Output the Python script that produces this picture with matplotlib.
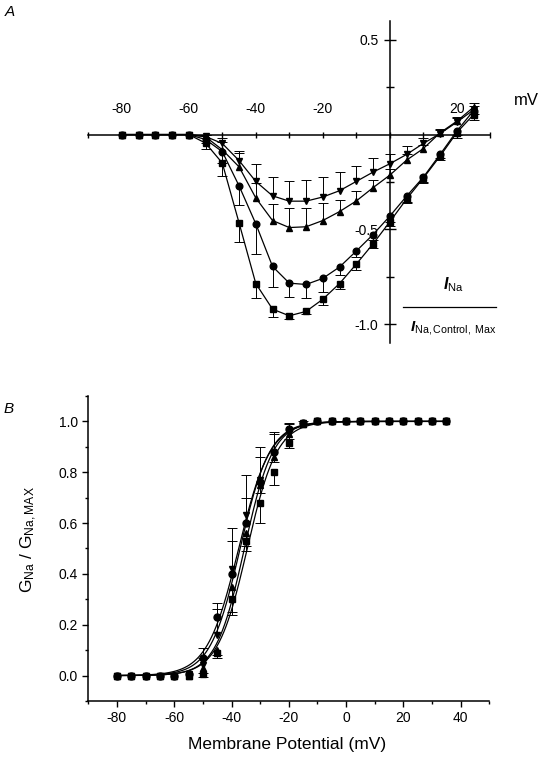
import numpy as np
import matplotlib
matplotlib.use('Agg')
from matplotlib import pyplot as plt
from matplotlib.lines import Line2D

plt.rcParams['font.family'] = ['Liberation Sans', 'DejaVu Sans']
plt.rcParams['axes.unicode_minus'] = False
plt.rcParams['mathtext.fontset'] = 'custom'
plt.rcParams['mathtext.rm'] = 'Liberation Sans'
plt.rcParams['mathtext.it'] = 'Liberation Sans:italic'
plt.rcParams['mathtext.bf'] = 'Liberation Sans:italic:bold'
plt.rcParams['mathtext.default'] = 'regular'

'''panel A : normalised I-V'''
volts_a = list(range(-80, 30, 5))
ina_square = [0, 0, 0, 0, 0, -0.045, -0.15, -0.465, -0.785, -0.92, -0.955, -0.932, -0.868,
              -0.785, -0.683, -0.576, -0.46, -0.34, -0.23, -0.114, 0.01, 0.105]
ina_circle = [0, 0, 0, 0, 0, -0.026, -0.09, -0.27, -0.47, -0.695, -0.783, -0.79, -0.758,
              -0.698, -0.614, -0.527, -0.43, -0.325, -0.225, -0.105, 0.018, 0.126]
ina_up = [0, 0, 0, 0, 0, -0.012, -0.08, -0.17, -0.334, -0.453, -0.49, -0.486, -0.453,
          -0.406, -0.35, -0.28, -0.214, -0.135, -0.074, 0.009, 0.07, 0.144]
ina_down = [0, 0, 0, 0, 0, -0.01, -0.047, -0.137, -0.247, -0.323, -0.351, -0.351, -0.329,
            -0.296, -0.247, -0.198, -0.154, -0.105, -0.047, 0.005, 0.065, 0.13]
# error bars (one sided, as in the figure)
err_square = [0, 0, 0, 0, 0, 0.03, 0.07, 0.1, 0.075, 0.04, 0.015, 0.015, 0.03, 0.03, 0.03,
              0.02, 0.02, 0.02, 0.02, 0.02, 0.03, 0.03]
err_circle = [0, 0, 0, 0, 0, 0.02, 0.06, 0.1, 0.16, 0.11, 0.075, 0.07, 0.07, 0.04, 0.03,
              0.03, 0.03, 0.03, 0.03, 0.02, 0.02, 0.02]
err_up = [0, 0, 0, 0, 0, 0.01, 0.04, 0.075, 0.08, 0.085, 0.105, 0.1, 0.09, 0.06, 0.05,
          0.04, 0.03, 0.03, 0.02, 0.02, 0.02, 0.02]
err_down = [0, 0, 0, 0, 0, 0.01, 0.03, 0.05, 0.09, 0.1, 0.105, 0.11, 0.107, 0.1, 0.08,
            0.074, 0.054, 0.045, 0.03, 0.02, 0.02, 0.02]

'''panel B : activation'''
volts_b = list(range(-80, 40, 5))
g_circle = [0, 0, 0, 0, 0, 0.005, 0.07, 0.23, 0.40, 0.60, 0.76, 0.88, 0.97, 0.995,
            1, 1, 1, 1, 1, 1, 1, 1, 1, 1]
g_down = [0, 0, 0, 0, 0, 0.005, 0.04, 0.16, 0.42, 0.63, 0.77, 0.87, 0.955, 0.995,
          1, 1, 1, 1, 1, 1, 1, 1, 1, 1]
g_up = [0, 0, 0, 0, 0, 0, 0.03, 0.10, 0.35, 0.56, 0.75, 0.86, 0.95, 0.99,
        1, 1, 1, 1, 1, 1, 1, 1, 1, 1]
g_square = [0, 0, 0, 0, 0, 0, 0.005, 0.09, 0.30, 0.53, 0.68, 0.80, 0.915, 0.99,
            1, 1, 1, 1, 1, 1, 1, 1, 1, 1]
gerr_circle = [0, 0, 0, 0, 0, 0, 0.04, 0.055, 0.13, 0.1, 0.1, 0.07, 0.025, 0.005,
               0, 0, 0, 0, 0, 0, 0, 0, 0, 0]
gerr_down = [0, 0, 0, 0, 0, 0, 0.03, 0.1, 0.16, 0.16, 0.13, 0.09, 0.035, 0,
             0, 0, 0, 0, 0, 0, 0, 0, 0, 0]
gerr_up = [0, 0, 0, 0, 0, 0, 0.02, 0.02, 0.1, 0.05, 0.03, 0.02, 0.02, 0,
           0, 0, 0, 0, 0, 0, 0, 0, 0, 0]
gerr_square = [0, 0, 0, 0, 0, 0, 0.01, 0.02, 0.06, 0.04, 0.08, 0.05, 0.02, 0,
               0, 0, 0, 0, 0, 0, 0, 0, 0, 0]
# Boltzmann fits (V1/2, slope): circle, down, up, square
fit_vhalf = [-37.5, -37.0, -35.5, -34.5]
fit_slope = [5.5, 5.2, 5.0, 5.2]


def one_sided(ax, x, y, err, sign, capsize, lw):
    x = np.array(x, float)
    y = np.array(y, float)
    err = np.array(err, float)
    keep = err > 0
    tips = y + sign * err
    ax.vlines(x[keep], y[keep], tips[keep], color='k', lw=lw, zorder=2)
    ax.plot(x[keep], tips[keep], ls='none', marker='_', ms=capsize, mew=lw, color='k', zorder=2)


fig = plt.figure(figsize=(5.43, 7.58), dpi=100)

# ---------------- A ----------------
axA = fig.add_axes([0.1626, 0.5471, 0.7403, 0.4256])
axA.set_xlim(-90, 30)
axA.set_ylim(-1.1, 0.6)
for s in ['bottom', 'right']:
    axA.spines[s].set_visible(False)
axA.spines['top'].set_position(('data', 0))
axA.spines['left'].set_position(('data', 0))
axA.spines['top'].set_linewidth(1.1)
axA.spines['left'].set_linewidth(1.1)
axA.xaxis.tick_top()
xt = list(range(-90, 31, 10))
xl = [str(v) if v in (-80, -60, -40, -20, 20) else '' for v in xt]
axA.set_xticks(xt, labels=xl)
axA.set_yticks([-1.0, -0.5, 0.5], labels=['-1.0', '-0.5', '0.5'])
axA.set_yticks([-0.75, -0.25, 0.25], minor=True)
axA.tick_params(axis='x', direction='inout', length=5, width=1, pad=11, labelsize=10)
axA.tick_params(axis='y', which='major', direction='inout', length=8.5, width=1, pad=4, labelsize=10)
axA.tick_params(axis='y', which='minor', direction='inout', length=6, width=1)

series_a = [(ina_square, err_square, 's', -1), (ina_circle, err_circle, 'o', -1),
            (ina_up, err_up, '^', 1), (ina_down, err_down, 'v', 1)]
for vals, errs, mk, sg in series_a:
    one_sided(axA, volts_a, vals, errs, sg, 7, 0.7)
    axA.plot(volts_a, vals, color='k', lw=0.9, marker=mk, ms=4.8, zorder=3, clip_on=False)

fig.text(0.969, 0.868, 'mV', ha='center', va='center', fontsize=12)
fig.text(0.008, 0.993, 'A', ha='left', va='top', fontsize=11, style='italic')
fig.text(0.835, 1 - 285 / 758, r'$\mathbf{I}_{\mathrm{Na}}$', ha='center', va='center', fontsize=11.5)
fig.add_artist(Line2D([403 / 543, 496 / 543], [1 - 306.7 / 758] * 2, color='k', lw=0.9))
fig.text(0.836, 1 - 328 / 758, r'$\mathbf{I}_{\mathrm{Na,Control,\ Max}}$', ha='center', va='center', fontsize=11)

# ---------------- B ----------------
axB = fig.add_axes([0.1626, 0.0752, 0.7385, 0.4024])
axB.set_xlim(-90, 50)
axB.set_ylim(-0.1, 1.1)
axB.spines['top'].set_visible(False)
axB.spines['right'].set_visible(False)
axB.spines['left'].set_linewidth(1.1)
axB.spines['bottom'].set_linewidth(1.1)
axB.set_xticks(range(-80, 41, 20))
axB.set_xticks(range(-90, 51, 10), minor=True)
axB.set_yticks(np.arange(0, 1.01, 0.2), labels=['0.0', '0.2', '0.4', '0.6', '0.8', '1.0'])
axB.set_yticks(np.arange(-0.1, 1.11, 0.1), minor=True)
axB.tick_params(which='major', direction='out', length=4.5, width=1, pad=3, labelsize=10)
axB.tick_params(which='minor', direction='out', length=2.5, width=1)

vfit = np.linspace(-80, 35, 300)
for vh, k in zip(fit_vhalf, fit_slope):
    axB.plot(vfit, 1 / (1 + np.exp((vh - vfit) / k)), color='k', lw=0.9, zorder=2)

series_b = [(g_circle, gerr_circle, 'o', 1), (g_down, gerr_down, 'v', 1),
            (g_up, gerr_up, '^', -1), (g_square, gerr_square, 's', -1)]
for vals, errs, mk, sg in series_b:
    one_sided(axB, volts_b, vals, errs, sg, 7, 0.7)
    axB.plot(volts_b, vals, ls='none', color='k', marker=mk, ms=5, zorder=3)

fig.text(287 / 543, 1 - 744 / 758, 'Membrane Potential (mV)', ha='center', va='center', fontsize=12.5)
fig.text(29 / 543, 1 - 540 / 758, r'G$_{\mathrm{Na}}$ / G$_{\mathrm{Na,MAX}}$', rotation=90,
         ha='center', va='center', fontsize=12.5)
fig.text(0.006, 1 - 402 / 758, 'B', ha='left', va='top', fontsize=11, style='italic')

plt.savefig('out.png', dpi=100)
